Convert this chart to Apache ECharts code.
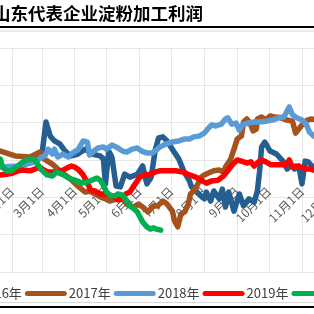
<!DOCTYPE html>
<html>
<head>
<meta charset="utf-8">
<script src="https://cdn.jsdelivr.net/npm/echarts@6/dist/echarts.min.js"></script>
<style>
  html, body { margin: 0; padding: 0; width: 314px; height: 314px; overflow: hidden; background: #fff; }
  #main { position: absolute; left: -100px; top: 0; width: 474px; height: 314px; }
</style>
</head>
<body>
<div id="main"></div>
<script>
// 标题、图例
var title = '山东代表企业淀粉加工利润';
var years = ['2016年', '2017年', '2018年', '2019年', '2020年'];
var colors = ['#255E91', '#A5521C', '#5B9BD5', '#FF0000', '#00B050'];

// 纵轴刻度
var yMin = -300, yMax = 300, yStep = 100;

// 日期类目：1月1日 ... 12月31日
var monthDays = [31, 28, 31, 30, 31, 30, 31, 31, 30, 31, 30, 31];
var days = [];
var monthStart = [];
for (var m = 0; m < 12; m++) {
  monthStart.push(days.length);
  for (var d = 1; d <= monthDays[m]; d++) days.push((m + 1) + '月' + d + '日');
}

// 各年数据 [日序号, 利润]
var y2016 = [[55,11],[59,11],[63,102],[67,64],[71,51],[76,43],[81,24],[84,16],[87,11],[93,16],[100,29],[106,16],[114,11],[117,3],[119,-64],[122,24],[125,8],[129,-70],[133,-72],[137,-38],[142,-46],[149,-38],[154,-16],[158,-64],[162,-46],[166,29],[169,59],[173,62],[177,51],[183,24],[188,3],[193,-32],[198,-56],[200,-72],[204,-83],[207,-91],[212,-104],[214,-86],[218,-110],[221,-83],[226,-104],[229,-78],[232,-126],[235,-86],[240,-137],[245,-91],[249,-123],[254,-104],[259,-113],[262,-83],[264,-32],[266,35],[269,48],[274,24],[280,16],[286,-3],[290,-24],[294,-13],[297,-24],[301,-16],[304,-64],[307,-3],[310,-5],[314,-19],[321,-11]];
var y2017 = [[0,29],[20,24],[34,11],[48,8],[57,21],[61,3],[69,-11],[76,-29],[86,-51],[93,-70],[100,-86],[104,-83],[109,-91],[114,-99],[119,-104],[123,-110],[130,-104],[135,-99],[139,-118],[145,-126],[150,-118],[154,-126],[159,-139],[164,-123],[168,-123],[173,-110],[177,-118],[182,-137],[184,-163],[187,-179],[190,-145],[194,-137],[197,-118],[199,-91],[202,-83],[206,-64],[209,-46],[212,-40],[216,-35],[221,-29],[226,-27],[230,-32],[232,-19],[237,3],[240,29],[243,56],[247,64],[249,102],[252,110],[255,99],[258,78],[261,83],[262,110],[266,115],[270,107],[274,118],[279,115],[284,113],[290,107],[295,104],[297,83],[298,72],[301,83],[304,94],[309,107],[313,110],[321,107]];
var y2018 = [[0,-19],[20,-19],[38,-16],[53,-5],[59,8],[62,11],[65,29],[69,16],[71,29],[74,8],[79,16],[84,8],[88,19],[93,27],[98,51],[102,48],[104,13],[108,24],[112,32],[117,35],[120,29],[125,40],[129,35],[135,24],[139,21],[144,29],[149,32],[153,24],[158,19],[163,19],[167,27],[170,35],[176,43],[182,48],[188,51],[193,56],[198,56],[202,62],[207,64],[212,72],[216,86],[219,94],[223,91],[228,96],[232,110],[234,113],[238,96],[242,99],[245,80],[248,94],[253,99],[259,102],[264,102],[270,104],[276,107],[282,113],[287,115],[292,142],[295,121],[299,113],[304,107],[308,96],[311,75],[315,64],[321,62]];
var y2019 = [[0,-43],[20,-40],[26,-38],[32,-35],[37,-29],[41,-27],[48,-29],[53,-24],[57,-19],[61,-27],[65,-32],[70,-32],[74,-32],[79,-27],[83,-21],[87,-16],[90,-19],[94,-27],[98,-40],[102,-62],[105,-80],[109,-83],[114,-91],[119,-91],[123,-94],[127,-99],[131,-107],[135,-104],[138,-91],[142,-86],[145,-72],[149,-56],[151,-46],[156,-40],[161,-38],[166,-32],[170,-29],[178,-29],[185,-29],[192,-32],[198,-40],[204,-46],[210,-56],[214,-62],[219,-56],[225,-54],[230,-43],[234,-29],[239,-11],[243,0],[247,-3],[252,-8],[256,-5],[259,-16],[263,-5],[266,0],[270,-5],[275,-13],[280,-13],[284,-13],[289,-13],[292,0],[295,-19],[298,-16],[303,-19],[308,-24],[312,-24],[315,-27],[321,-27]];
var y2020 = [[0,3],[20,3],[22,-19],[26,-29],[30,-29],[35,-19],[40,-8],[44,0],[49,3],[53,0],[55,-11],[59,-27],[64,-40],[69,-43],[73,-32],[78,-38],[83,-46],[87,-51],[92,-56],[97,-62],[102,-59],[106,-54],[111,-48],[114,-54],[117,-67],[120,-86],[124,-96],[128,-96],[131,-91],[135,-94],[139,-110],[142,-123],[146,-131],[149,-139],[151,-150],[154,-166],[158,-179],[161,-185],[164,-182],[167,-185],[171,-188]];
var seriesData = [y2016, y2017, y2018, y2019, y2020];

var isMonthStart = function (idx) { return monthStart.indexOf(idx) >= 0; };
var pill = 'path://M2.5,0 L39.5,0 A2.5,2.5 0 0 1 39.5,5 L2.5,5 A2.5,2.5 0 0 1 2.5,0 Z';

var myChart = echarts.init(document.getElementById('main'));
var option = {
  animation: false,
  textStyle: { fontFamily: '"Noto Sans CJK SC", sans-serif' },
  title: {
    text: title,
    left: 93,
    top: 2,
    padding: 0,
    textStyle: { fontSize: 17.5, fontWeight: 'bold', color: '#000', lineHeight: 22 }
  },
  legend: {
    left: 31,
    top: 282,
    width: 700,
    orient: 'horizontal',
    itemWidth: 42,
    itemHeight: 5,
    itemGap: 3,
    data: years.map(function (y) { return { name: y, icon: pill }; }),
    textStyle: { fontSize: 13, color: '#404040', padding: [0, 0, 0, -3] }
  },
  graphic: [
    { type: 'rect', shape: { x: 0, y: 26, width: 474, height: 2 }, style: { fill: '#000' }, silent: true },
    { type: 'rect', shape: { x: 0, y: 30, width: 474, height: 2 }, style: { fill: '#EBEBEB' }, silent: true },
    { type: 'rect', shape: { x: 0, y: 302, width: 474, height: 1 }, style: { fill: '#D9D9D9' }, silent: true },
    { type: 'rect', shape: { x: 0, y: 306, width: 474, height: 2 }, style: { fill: '#000' }, silent: true }
  ],
  grid: { left: 79.1, right: 8.3, top: 48, bottom: 42, containLabel: false },
  xAxis: {
    type: 'category',
    data: days,
    boundaryGap: false,
    position: 'bottom',
    offset: -112,
    axisLine: { show: false, onZero: false },
    axisTick: { show: false },
    axisLabel: { interval: isMonthStart, rotate: 45, margin: 29, fontSize: 12, color: '#595959' },
    splitLine: { show: true, interval: isMonthStart, lineStyle: { color: '#E6E6E6', width: 1 } }
  },
  yAxis: {
    type: 'value',
    min: yMin,
    max: yMax,
    interval: yStep,
    axisLabel: { show: false },
    axisLine: { show: false },
    axisTick: { show: false },
    splitLine: { lineStyle: { color: '#E6E6E6', width: 1 } }
  },
  series: years.map(function (y, i) {
    return {
      name: y,
      type: 'line',
      data: seriesData[i],
      showSymbol: false,
      symbol: 'none',
      color: colors[i],
      lineStyle: { width: 5.5, color: colors[i], join: 'round', cap: 'round' }
    };
  })
};
myChart.setOption(option);
</script>
</body>
</html>
